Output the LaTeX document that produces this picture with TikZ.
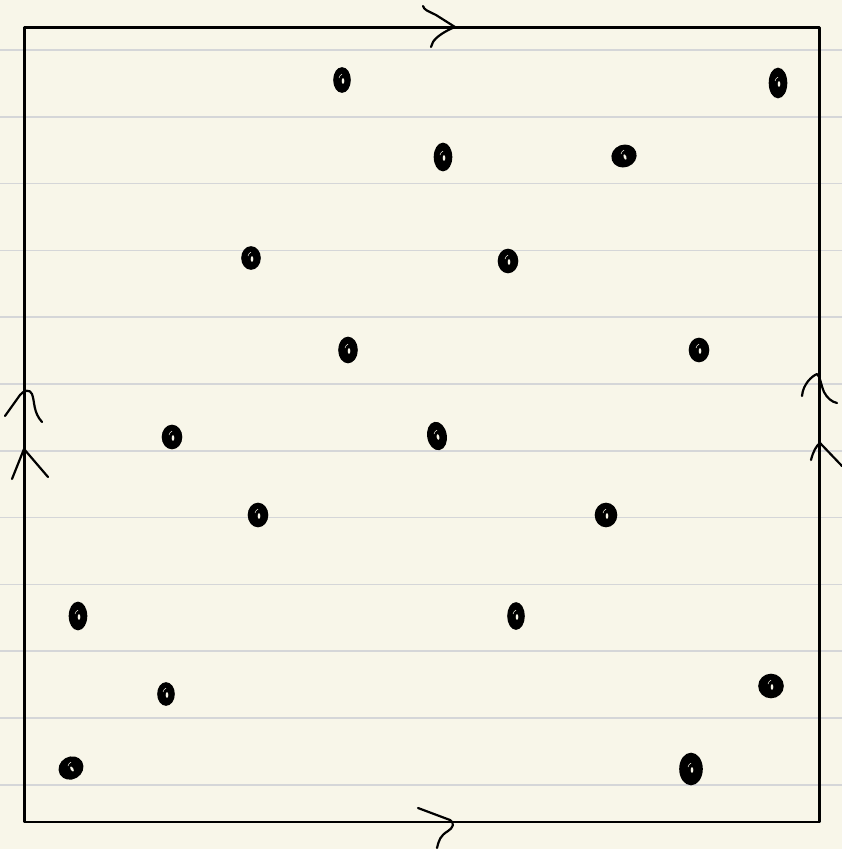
\documentclass[tikz,border=0pt]{standalone}
\usetikzlibrary{calc}
\definecolor{paper}{HTML}{F8F6E9}
\definecolor{rule}{HTML}{D5D6D8}
\tikzset{
  ink/.style={line width=2.2pt, line cap=round, line join=round, black},
  ruling/.style={line width=1.6pt, rule},
  dot/.style={fill=black, draw=black, line width=1.6pt},
  glint/.style={fill=paper}
}
\newcommand{\dotat}[5]{%
  \fill[dot] (#1,#2) ellipse [x radius=#3, y radius=#4, rotate=#5];
  \fill[glint] ($(#1,#2)+(1,1)$) ellipse [x radius=1.3, y radius=2.8, rotate=#5];
  \draw[paper, line width=0.5pt] ($(#1,#2)+(-3,-2)$) arc[start angle=200, end angle=260, x radius=4, y radius=6];
}
\begin{document}
\begin{tikzpicture}[x=1pt,y=-1pt]
\useasboundingbox (0,0) rectangle (842,849);
\fill[paper] (0,0) rectangle (842,849);
\foreach \yy in {50,116.8,183.6,250.4,317.2,384,450.8,517.6,584.4,651.2,718,784.8}
  \draw[ruling] (0,\yy) -- (842,\yy);
% square
\coordinate (tl) at (24.5,27.5);
\coordinate (br) at (819.5,822);
\draw[ink] (tl) rectangle (br);
% top arrow
\draw[ink] (423,6) .. controls (424,10) and (428,11) .. (436,15) -- (455,27)
  .. controls (445,31) and (436,37) .. (433,42) -- (431,47);
% bottom arrow
\draw[ink] (418,808) -- (450,820) .. controls (455,823) and (453,828) .. (448,831)
  .. controls (440,836) and (439,840) .. (437,848);
% left arrows
\draw[ink] (5,416) -- (20,395) .. controls (24,390) and (30,389) .. (32,394)
  .. controls (35,402) and (33,412) .. (42,422);
\draw[ink] (12,479) -- (24,449) -- (48,477);
% right arrows
\draw[ink] (802,396) .. controls (803,384) and (812,376) .. (817,374)
  .. controls (820,376) and (821,385) .. (824,392) .. controls (827,398) and (832,402) .. (837,403);
\draw[ink] (811,460) .. controls (813,452) and (816,446) .. (820,443) -- (842,466);
% dots
\dotat{342}{80}{8}{12}{0}
\dotat{778}{83}{8.5}{14.5}{0}
\dotat{443}{157}{8.5}{13.5}{0}
\dotat{624}{156}{12}{10.5}{20}
\dotat{251}{258}{9}{11}{0}
\dotat{508}{261}{9.5}{11.5}{0}
\dotat{348}{350}{9}{12.5}{0}
\dotat{699}{350}{9.5}{11.5}{0}
\dotat{172}{437}{9.5}{11.5}{0}
\dotat{437}{436}{9}{13.5}{10}
\dotat{258}{515}{9.5}{11.5}{0}
\dotat{606}{515}{10.5}{11.5}{0}
\dotat{78}{616}{8.5}{13.5}{0}
\dotat{516}{616}{8}{13}{0}
\dotat{166}{694}{8}{11}{0}
\dotat{771}{686}{12}{11.5}{0}
\dotat{71}{768}{12}{10.5}{30}
\dotat{691}{769}{11}{15.5}{0}
\end{tikzpicture}
\end{document}
